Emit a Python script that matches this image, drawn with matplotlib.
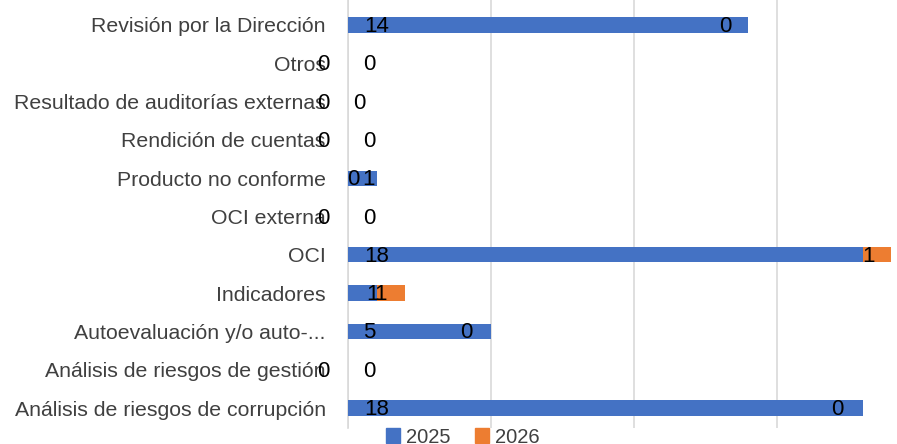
import matplotlib
matplotlib.use("Agg")
import matplotlib.pyplot as plt
from matplotlib.patches import Patch

categories = [
    "Análisis de riesgos de corrupción",
    "Análisis de riesgos de gestión",
    "Autoevaluación y/o auto-...",
    "Indicadores",
    "OCI",
    "OCI externa",
    "Producto no conforme",
    "Rendición de cuentas",
    "Resultado de auditorías externas",
    "Otros",
    "Revisión por la Dirección",
]
values_2025 = [18, 0, 5, 1, 18, 0, 1, 0, 0, 0, 14]
values_2026 = [0, 0, 0, 1, 1, 0, 0, 0, 0, 0, 0]
labels_2025 = ["18", "0", "5", "1", "18", "0", "0", "0", "0", "0", "14"]
labels_2026 = ["0", "0", "0", "1", "1", "0", "1", "0", "0", "0", "0"]

# label placement (layout, in axis units)
lab25_x = [1.0, -0.87, 0.73, 0.84, 1.0, -0.87, 0.17, -0.87, -0.87, -0.87, 1.0]
lab26_x = [17.1, 0.73, 4.13, 1.15, 18.2, 0.73, 0.73, 0.73, 0.38, 0.73, 13.2]

blue = "#4472C4"
orange = "#ED7D31"

plt.rcParams['font.family'] = ['Liberation Sans', 'DejaVu Sans']
fig = plt.figure(figsize=(8.97, 4.44), dpi=100)
ax = fig.add_axes([348/897, 16/444, 1 - 348/897, 428/444])

y = list(range(len(categories)))
ax.barh(y, values_2025, height=0.40, color=blue, zorder=3)
ax.barh(y, values_2026, left=values_2025, height=0.40, color=orange, zorder=3)

for i in y:
    ax.text(lab25_x[i], i - 0.04, labels_2025[i], ha="center", va="center",
            fontsize=16, color="black", zorder=5)
    ax.text(lab26_x[i], i - 0.04, labels_2026[i], ha="center", va="center",
            fontsize=16, color="black", zorder=5)

ax.set_xlim(0, (897 - 348) / 28.6)
ax.set_ylim(-0.52, 10.65)
ax.set_xticks([0, 5, 10, 15])
ax.set_xticklabels([])
ax.grid(axis="x", color="#D9D9D9", linewidth=1.2, zorder=0)
ax.set_yticks(y)
ax.set_yticklabels(categories, fontsize=15.3, color="#404040")
ax.tick_params(axis="y", length=0, pad=16)
ax.tick_params(axis="x", length=0)
for s in ["top", "right", "bottom"]:
    ax.spines[s].set_visible(False)
ax.spines["left"].set_color("#D9D9D9")
ax.spines["left"].set_linewidth(1.2)

handles = [Patch(color=blue, label="2025"), Patch(color=orange, label="2026")]
fig.legend(handles=handles, loc="center", bbox_to_anchor=(463/897, 1 - 437/444),
           ncol=2, frameon=False, fontsize=14.5, handlelength=0.7, handleheight=0.7,
           handletextpad=0.3, columnspacing=1.2, labelcolor="#404040",
           borderpad=0, borderaxespad=0)

fig.savefig("out.png", dpi=100)
